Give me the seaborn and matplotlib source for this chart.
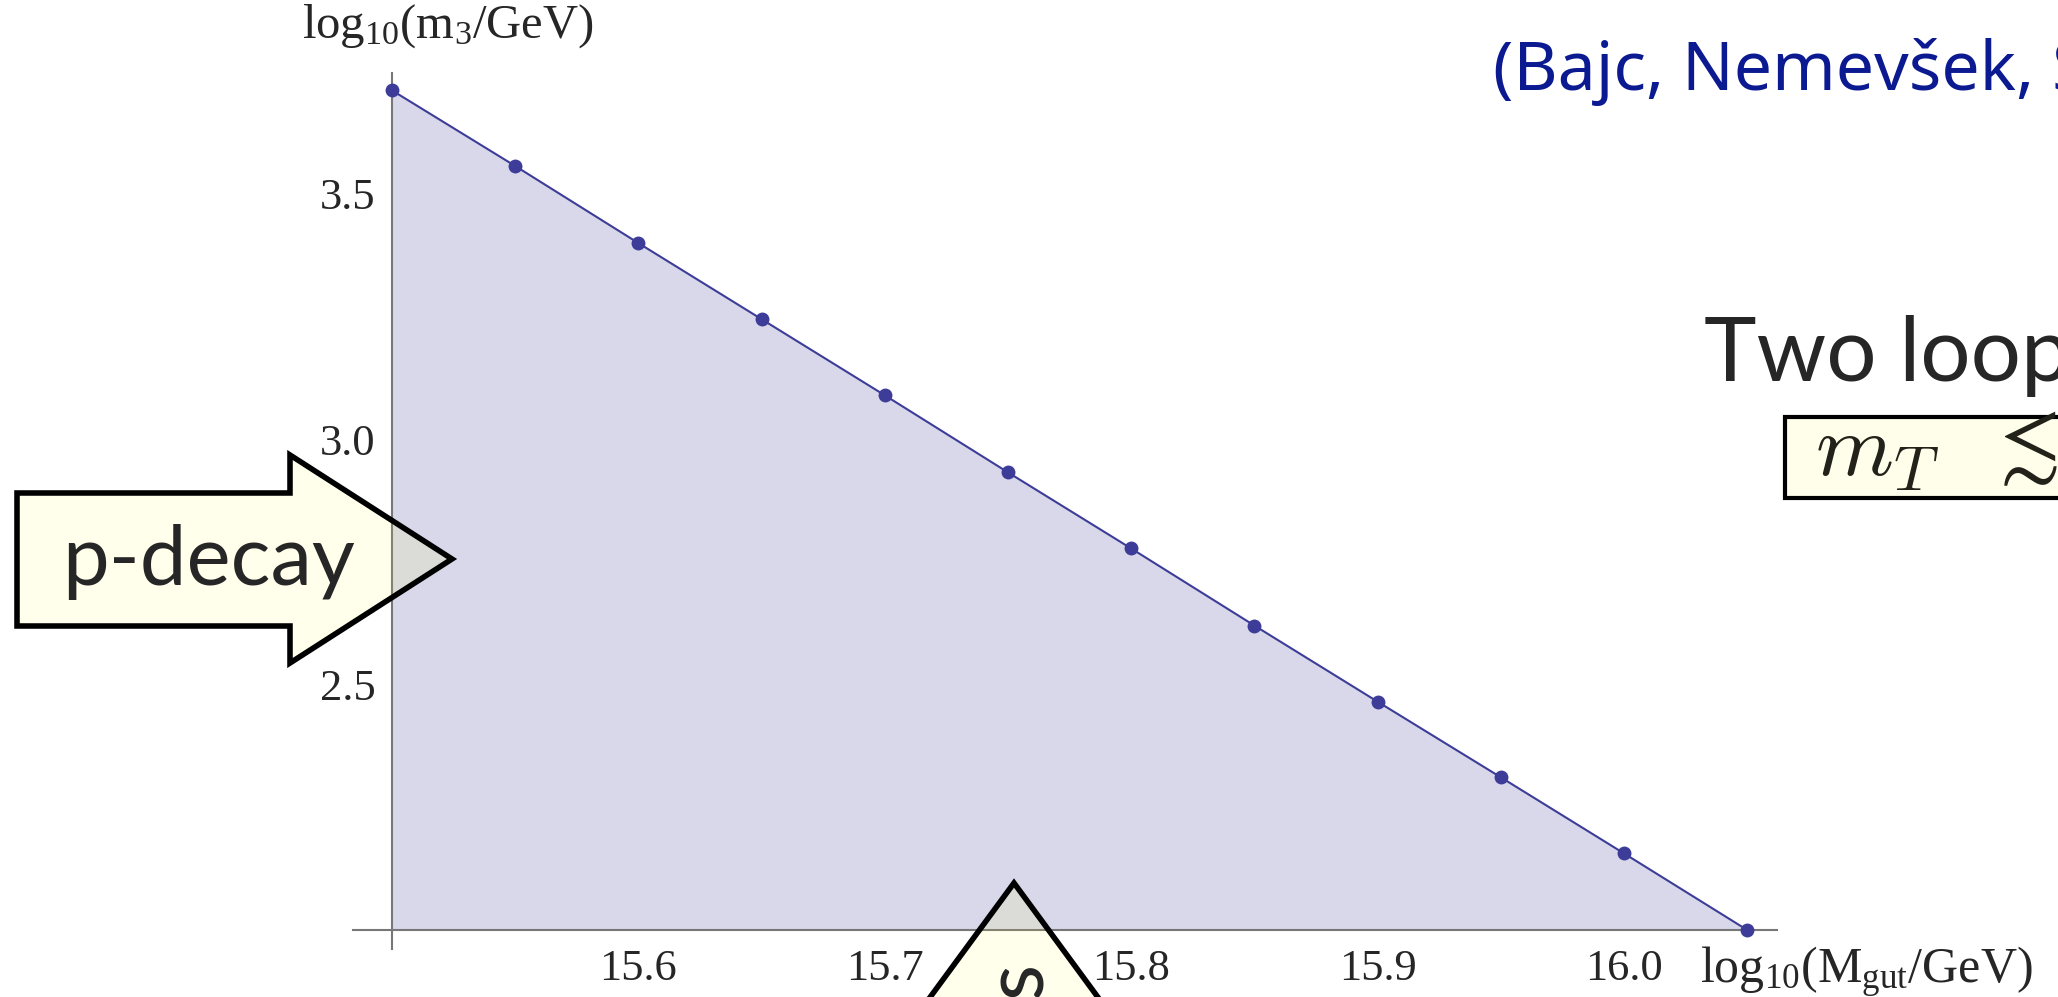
"""Proton decay bound: log10(m3) versus log10(Mgut), two-loop running."""

import matplotlib
matplotlib.use("Agg")
import matplotlib.pyplot as plt
from matplotlib.patches import Polygon, Rectangle
import seaborn as sns

# ── Data ────────────────────────────────────────────────────────────────────
log_mgut = [15.50, 15.55, 15.60, 15.65, 15.70, 15.75, 15.80, 15.85, 15.90, 15.95, 16.00, 16.05]
log_m3 = [3.710, 3.556, 3.399, 3.244, 3.089, 2.932, 2.777, 2.620, 2.465, 2.311, 2.156, 2.000]

x_major = [15.6, 15.7, 15.8, 15.9, 16.0]
x_major_labels = ["15.6", "15.7", "15.8", "15.9", "16.0"]
x_minor = [15.52, 15.54, 15.56, 15.58, 15.62, 15.64, 15.66, 15.68, 15.72, 15.74, 15.76, 15.78,
           15.82, 15.84, 15.86, 15.88, 15.92, 15.94, 15.96, 15.98, 16.02, 16.04, 16.06]
y_major = [2.5, 3.0, 3.5]
y_major_labels = ["2.5", "3.0", "3.5"]
y_minor = [2.1, 2.2, 2.3, 2.4, 2.6, 2.7, 2.8, 2.9, 3.1, 3.2, 3.3, 3.4, 3.6, 3.7]

LINE_C = (61 / 255, 61 / 255, 153 / 255)
AXIS_C = "#777777"
YELLOW = "#FEFEEA"
ARROW_FILL = (1.0, 1.0, 0.17, 0.095)
BLUE_TXT = "#0C1A92"

W, H = 2058, 997


def fx(px):
    return px / W


def fy(py):
    return 1 - py / H


# ── Style ───────────────────────────────────────────────────────────────────
sns.set_style("white")
plt.rcParams["font.family"] = ["Liberation Serif", "DejaVu Serif"]
plt.rcParams["mathtext.fontset"] = "custom"
plt.rcParams["mathtext.rm"] = "Liberation Serif"
plt.rcParams["mathtext.it"] = "Liberation Serif:italic"

fig = plt.figure(figsize=(W / 100, H / 100), dpi=100)
ax = fig.add_axes([0, 0, 1, 1])
ax.set_facecolor("none")

# axes scale: 0.1 in x = 246.4 px, 0.1 in y = 49.1 px, origin (15.5, 2.0) at (392, 930)
dx = 0.1 / 246.4
dy = 0.1 / 49.1
ax.set_xlim(15.5 - 392 * dx, 15.5 + (W - 392) * dx)
ax.set_ylim(2.0 - (H - 930) * dy, 2.0 + 930 * dy)

# ── Plot ────────────────────────────────────────────────────────────────────
ax.fill_between(log_mgut, log_m3, 2.0, color=LINE_C, alpha=0.2, lw=0, zorder=1)
sns.lineplot(x=log_mgut, y=log_m3, ax=ax, color=LINE_C, linewidth=1.5,
             marker="o", markersize=10, markeredgewidth=0, zorder=3)

# Mathematica-style crossing axes
for side in ("top", "right"):
    ax.spines[side].set_visible(False)
ax.spines["left"].set_position(("data", 15.5))
ax.spines["bottom"].set_position(("data", 2.0))
ax.spines["left"].set_bounds(1.961, 3.746)
ax.spines["bottom"].set_bounds(15.484, 16.062)
for side in ("left", "bottom"):
    ax.spines[side].set_color(AXIS_C)
    ax.spines[side].set_linewidth(1.5)

ax.set_xticks(x_major, x_major_labels)
ax.set_xticks(x_minor, minor=True)
ax.set_yticks(y_major, y_major_labels)
ax.set_yticks(y_minor, minor=True)
ax.tick_params(which="both", direction="in", color=AXIS_C, width=1.3)
ax.tick_params(which="major", length=11.5, labelsize=32)
ax.tick_params(which="minor", length=6.5)
ax.tick_params(axis="x", which="major", pad=14)
ax.tick_params(axis="y", which="major", pad=12)

fig.text(fx(302), fy(38), r"log$_{10}$(m$_{3}$/GeV)", fontsize=35, ha="left", va="baseline")
fig.text(fx(1700), fy(983), r"log$_{10}$(M$_{\mathrm{gut}}$/GeV)", fontsize=36,
         ha="left", va="baseline")

# ── Slide annotations ───────────────────────────────────────────────────────
sans = ["Lato", "DejaVu Sans"]
fig.text(fx(1493), fy(90), "(Bajc, Nemevšek, S", color=BLUE_TXT, fontsize=49,
         family=["Noto Sans", "DejaVu Sans"], ha="left", va="baseline")
fig.text(fx(1704), fy(381), "Two loop", fontsize=64, family=sans,
         ha="left", va="baseline")

fig.add_artist(Rectangle((fx(1785), fy(498)), fx(2100) - fx(1785), fy(417) - fy(498),
                         transform=fig.transFigure, facecolor=YELLOW, edgecolor="black",
                         linewidth=3, zorder=5))
fig.text(fx(1815), fy(476), r"$m_T$", fontsize=64, math_fontfamily="cm",
         color="#22221a", ha="left", va="baseline", zorder=6)
fig.text(fx(1984), fy(471), r"$\lesssim$", fontsize=64, math_fontfamily="cm",
         color="#22221a", ha="left", va="baseline", zorder=6)

pdecay = [(17, 493), (290, 493), (290, 455), (452, 559), (290, 663), (290, 626), (17, 626)]
fig.add_artist(Polygon([(fx(a), fy(b)) for a, b in pdecay], closed=True,
                       transform=fig.transFigure, facecolor=ARROW_FILL,
                       edgecolor="black", linewidth=4, joinstyle="miter", zorder=5))
fig.text(fx(62), fy(585), "p-decay", fontsize=60, family=sans,
         ha="left", va="baseline", zorder=6)

up_arrow = [(1014, 883), (1133, 1045), (1080, 1045), (1080, 1120), (948, 1120),
            (948, 1045), (895, 1045)]
fig.add_artist(Polygon([(fx(a), fy(b)) for a, b in up_arrow], closed=True,
                       transform=fig.transFigure, facecolor=ARROW_FILL,
                       edgecolor="black", linewidth=4, joinstyle="miter", zorder=5))
fig.text(fx(1042), fy(962), "s", fontsize=60, family=sans,
         rotation=90, rotation_mode="anchor", ha="right", va="baseline", zorder=6)

fig.savefig("out.png", dpi=100)
